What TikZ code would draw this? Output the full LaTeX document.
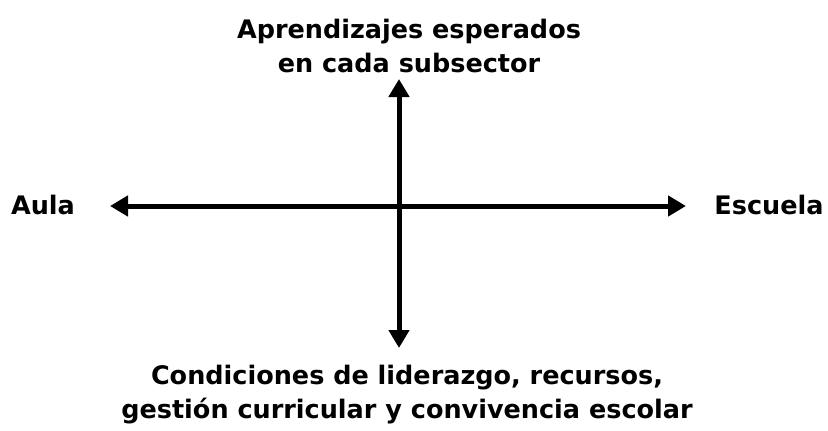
\documentclass[tikz,border=0pt]{standalone}
\usepackage{fontspec}
\setmainfont{DejaVu Sans}
\usetikzlibrary{arrows.meta}

\tikzset{
  lbl/.style={font=\bfseries\fontsize{25.5}{34}\selectfont, align=center, inner sep=0pt},
  axis/.style={line width=5pt, {Triangle[length=18pt,width=20pt]}-{Triangle[length=18pt,width=20pt]}}
}

\begin{document}
\begin{tikzpicture}[x=1pt, y=-1pt]
        \useasboundingbox (0, 0) rectangle (828, 431);

        \node[lbl] at (409, 46)      (top)    {Aprendizajes esperados\\en cada subsector};
        \node[lbl] at (407, 395)     (bottom) {Condiciones de liderazgo, recursos,\\gestión curricular y convivencia escolar};
        \node[lbl] at (43, 205)      (aula)   {Aula};
        \node[lbl] at (769, 205)     (escuela){Escuela};

        \coordinate (w) at (110, 206);
        \coordinate (e) at (686, 206);
        \coordinate (n) at (399, 79);
        \coordinate (s) at (399, 348);

        \draw[axis] (w) -- (e);
        \draw[axis] (n) -- (s);
    \end{tikzpicture}
\end{document}
